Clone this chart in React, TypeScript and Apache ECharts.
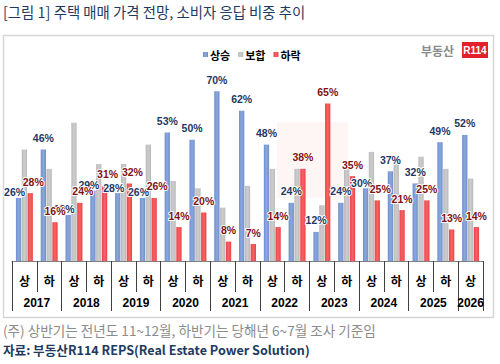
import React, { useEffect, useRef } from 'react';
import * as echarts from 'echarts';

const halves = ['상', '하', '상', '하', '상', '하', '상', '하', '상', '하', '상', '하', '상', '하', '상', '하', '상', '하', '상'];
const years = ['2017', '2017', '2018', '2018', '2019', '2019', '2020', '2020', '2021', '2021', '2022', '2022', '2023', '2023', '2024', '2024', '2025', '2025', '2026'];
const rise = [26, 46, 19, 29, 28, 26, 53, 50, 70, 62, 48, 24, 12, 24, 30, 37, 32, 49, 52];
const flat = [46, 38, 57, 40, 40, 48, 33, 30, 22, 31, 38, 38, 23, 41, 45, 42, 43, 38, 34];
const fall = [28, 16, 24, 31, 32, 26, 14, 20, 8, 7, 14, 38, 65, 35, 25, 21, 25, 13, 14];
const seriesNames = ['상승', '보합', '하락'];
const titleText = '[그림 1] 주택 매매 가격 전망, 소비자 응답 비중 추이';
const noteText = '(주) 상반기는 전년도 11~12월, 하반기는 당해년 6~7월 조사 기준임';
const sourceText = '자료: 부동산R114 REPS(Real Estate Power Solution)';

const KR = '"Noto Sans CJK KR", "Noto Sans", sans-serif';
const LAT = '"Liberation Sans", Arial, sans-serif';

function grad(edge: string, mid: string) {
  return new echarts.graphic.LinearGradient(0, 0, 1, 0, [
    { offset: 0, color: edge },
    { offset: 0.5, color: mid },
    { offset: 1, color: edge },
  ]);
}

export default function App() {
  const ref = useRef<HTMLDivElement>(null);
  useEffect(() => {
    if (!ref.current) return;
    const chart = echarts.init(ref.current, undefined, { renderer: 'svg' });
    const cats = halves.map((h, i) => years[i] + h);
    const isYearStart = (i: number) => i === 0 || years[i] !== years[i - 1];
    const spanOf = (i: number) => years.filter((y) => y === years[i]).length;
    // when the rise and fall values are close, their labels would collide: nudge them apart
    const close = (i: number) => Math.abs(rise[i] - fall[i]) <= 5;
    const riseData = rise.map((v, i) => (close(i) ? { value: v, label: { offset: [-4, 6] } } : v));
    const fallData = fall.map((v, i) => (close(i) ? { value: v, label: { offset: [3, 0] } } : v));
    const labelCommon = {
      show: true,
      position: 'top' as const,
      distance: 6,
      fontSize: 10.5,
      fontWeight: 'bold' as const,
      fontFamily: LAT,
      formatter: '{c}%',
      textBorderColor: '#ffffff',
      textBorderWidth: 2,
    };
    const option: any = {
      animation: false,
      backgroundColor: '#ffffff',
      graphic: [
        {
          type: 'text', left: 3, top: 4,
          style: { text: titleText, fontSize: 14.4, fontFamily: KR, fill: '#1f3a60' },
        },
        {
          type: 'rect', shape: { x: 3.5, y: 35.5, width: 490, height: 282 },
          style: { fill: 'none', stroke: '#d6d6d6', lineWidth: 1.5 },
        },
        {
          type: 'rect', shape: { x: 277, y: 122, width: 71, height: 76 },
          style: { fill: 'rgba(235,60,60,0.05)' }, z: -1,
        },
        {
          type: 'text', left: 176, top: 138,
          style: { text: '부동산', fontSize: 32, fontWeight: 'bold', fontFamily: KR, fill: 'rgba(0,0,0,0.025)' }, z: -1,
        },
        {
          type: 'text', left: 421, top: 44,
          style: { text: '부동산', fontSize: 12, fontWeight: 'bold', fontFamily: KR, fill: '#8a8a8a' },
        },
        {
          type: 'rect', shape: { x: 462, y: 42, width: 26, height: 16 },
          style: { fill: '#e3202b' },
        },
        {
          type: 'text', x: 475, y: 50,
          style: { text: 'R114', fontSize: 10, fontWeight: 'bold', fontFamily: LAT, fill: '#ffffff', align: 'center', verticalAlign: 'middle' },
        },
        {
          type: 'text', left: 3, top: 323,
          style: { text: noteText, fontSize: 13.6, fontFamily: KR, fill: '#8c8c8c' },
        },
        {
          type: 'text', left: 3, top: 343,
          style: { text: sourceText, fontSize: 12.6, fontWeight: 'bold', fontFamily: KR, fill: '#1f3a60' },
        },
      ],
      legend: {
        data: seriesNames,
        left: 198, top: 44,
        itemWidth: 5, itemHeight: 5, itemGap: 8,
        icon: 'rect',
        textStyle: { fontSize: 11, fontWeight: 'bold', fontFamily: KR, color: '#000', padding: [0, 0, 0, -3] },
      },
      grid: { left: 12, width: 471, top: 67, height: 194 },
      xAxis: [
        {
          type: 'category', data: cats, position: 'bottom',
          axisLine: { show: true, lineStyle: { color: '#7f7f7f', width: 1 } },
          axisTick: { show: true, interval: 0, length: 31, lineStyle: { color: '#404040', width: 1 } },
          axisLabel: {
            interval: 0, margin: 13, fontSize: 12, fontWeight: 'bold', fontFamily: KR, color: '#000',
            formatter: (_v: string, i: number) => halves[i],
          },
        },
        {
          type: 'category', data: cats, position: 'bottom', gridIndex: 0,
          axisLine: { show: false },
          axisTick: {
            show: true, length: 50, lineStyle: { color: '#404040', width: 1 },
            interval: (i: number) => isYearStart(i),
          },
          axisLabel: {
            interval: 0, margin: 36, fontSize: 12, fontWeight: 'bold', fontFamily: LAT, color: '#000',
            formatter: (_v: string, i: number) => {
              if (!isYearStart(i)) return '';
              return spanOf(i) > 1 ? `{w|${years[i]}}` : `{n|${years[i]}}`;
            },
            rich: {
              w: { padding: [0, 0, 0, 24.8], fontSize: 12, fontWeight: 'bold', fontFamily: LAT, color: '#000' },
              n: { fontSize: 12, fontWeight: 'bold', fontFamily: LAT, color: '#000' },
            },
          },
        },
      ],
      yAxis: { type: 'value', min: 0, max: 80, show: false, splitLine: { show: false } },
      series: [
        {
          name: seriesNames[0], type: 'bar', data: riseData, barWidth: 5.3, barGap: '10%',
          itemStyle: { color: grad('#6f8fcd', '#8ba7dd') },
          label: { ...labelCommon, color: '#1f3864' },
        },
        {
          name: seriesNames[1], type: 'bar', data: flat, barWidth: 5.3, barGap: '10%',
          itemStyle: { color: grad('#b9b9b9', '#cdcdcd') },
        },
        {
          name: seriesNames[2], type: 'bar', data: fallData, barWidth: 5.3, barGap: '10%',
          itemStyle: { color: grad('#ec4245', '#f46466') },
          label: { ...labelCommon, color: '#7f1212' },
        },
      ],
    };
    chart.setOption(option);
    return () => chart.dispose();
  }, []);
  return <div ref={ref} style={{ position: 'absolute', left: 0, top: 0, width: 500, height: 364 }} />;
}
